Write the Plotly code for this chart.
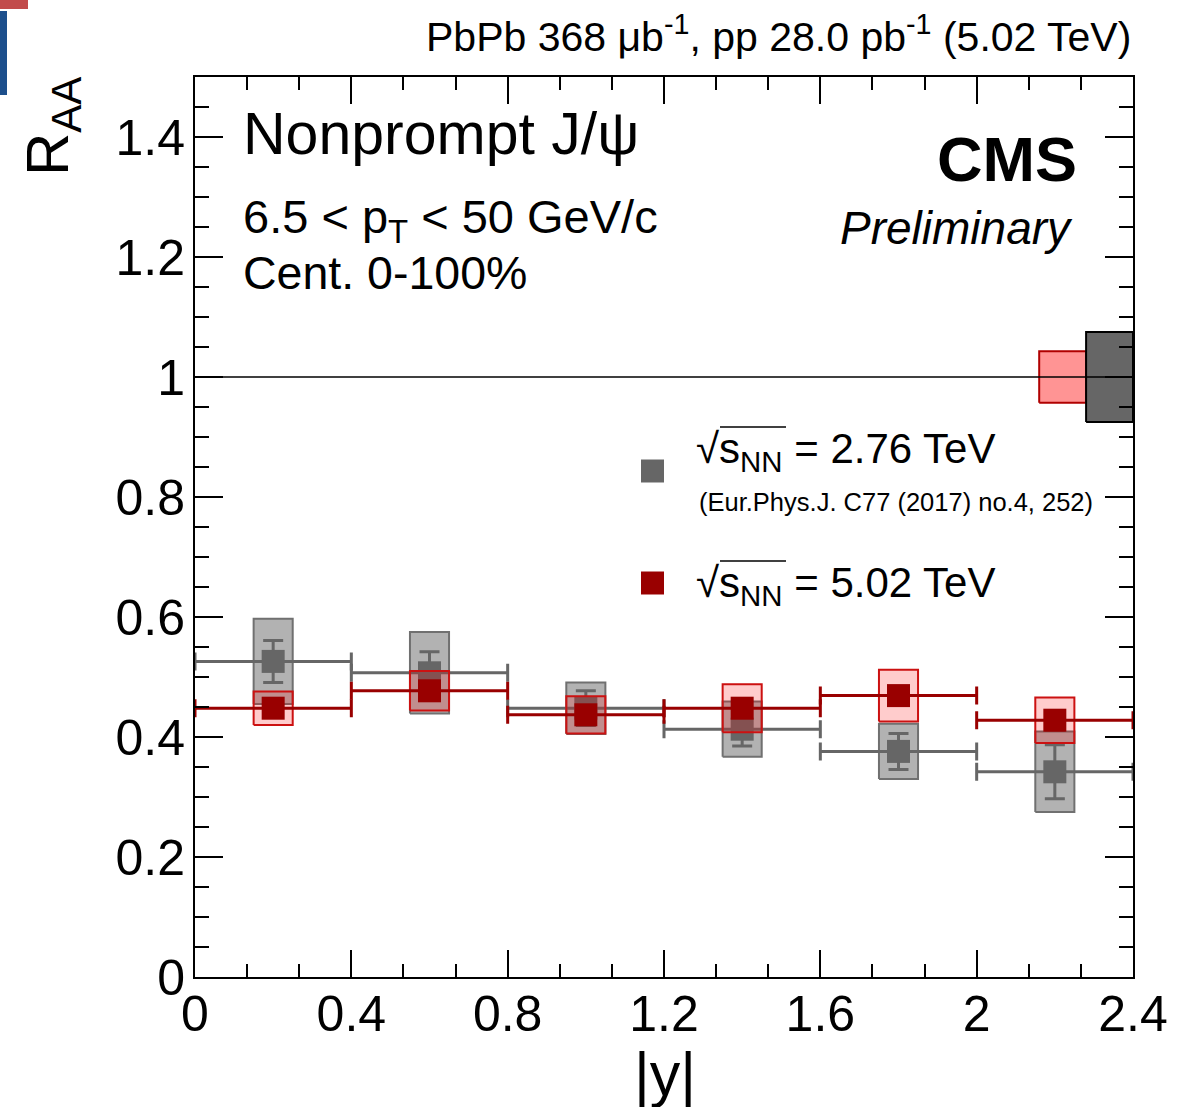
import plotly.graph_objects as go

# ---------------- data ----------------
bin_lo = [0.0, 0.4, 0.8, 1.2, 1.6, 2.0]
bin_hi = [0.4, 0.8, 1.2, 1.6, 2.0, 2.4]

raa_276 = [0.526, 0.507, 0.448, 0.413, 0.376, 0.342]
stat_276 = [0.035, 0.035, 0.029, 0.028, 0.030, 0.045]
syst_276 = [0.071, 0.068, 0.043, 0.046, 0.046, 0.067]

raa_502 = [0.448, 0.477, 0.437, 0.448, 0.469, 0.428]
stat_502 = [0.012, 0.013, 0.012, 0.014, 0.015, 0.016]
syst_502 = [0.028, 0.033, 0.031, 0.040, 0.043, 0.038]

global_unc_502 = 0.043
global_unc_276 = 0.075
reference_raa = 1.0

x_ticks = [0, 0.4, 0.8, 1.2, 1.6, 2.0, 2.4]
y_ticks = [0, 0.2, 0.4, 0.6, 0.8, 1.0, 1.2, 1.4]

# ---------------- layout constants ----------------
W, H = 1201, 1107
L, R, T, B = 195, 1133, 77, 977
XMIN, XMAX, YMIN, YMAX = 0.0, 2.4, 0.0, 1.5
BOX_HALF = 0.05
GLOBAL_W = 0.12
FONT = "Liberation Sans, Arial, Helvetica, sans-serif"

GRAY = "#666666"
DRED = "#990000"

centers = [(a + b) / 2 for a, b in zip(bin_lo, bin_hi)]
halfw = [(b - a) / 2 for a, b in zip(bin_lo, bin_hi)]


def px(x):
    return (x - L) / (R - L)


def py(y):
    return (B - y) / (B - T)


def boxes(xc, hw, vals, errs):
    xs, ys = [], []
    for c, v, e in zip(xc, vals, errs):
        xs += [c - hw, c + hw, c + hw, c - hw, c - hw, None]
        ys += [v - e, v - e, v + e, v + e, v - e, None]
    return xs, ys


fig = go.Figure()

# gray systematic boxes
bx, by = boxes(centers, BOX_HALF, raa_276, syst_276)
fig.add_trace(go.Scatter(x=bx, y=by, mode="lines", fill="toself",
                         fillcolor="rgba(102,102,102,0.5)",
                         line=dict(color="#707070", width=2), hoverinfo="skip"))
# gray points
fig.add_trace(go.Scatter(
    x=centers, y=raa_276, mode="markers",
    marker=dict(symbol="square", size=23, color=GRAY, line=dict(width=0)),
    error_x=dict(type="data", array=halfw, color=GRAY, thickness=3, width=9),
    error_y=dict(type="data", array=stat_276, color=GRAY, thickness=3, width=10),
))
# red systematic boxes
bx, by = boxes(centers, BOX_HALF, raa_502, syst_502)
fig.add_trace(go.Scatter(x=bx, y=by, mode="lines", fill="toself",
                         fillcolor="rgba(255,0,0,0.2)",
                         line=dict(color="#cc1111", width=2), hoverinfo="skip"))
# red points
fig.add_trace(go.Scatter(
    x=centers, y=raa_502, mode="markers",
    marker=dict(symbol="square", size=23, color=DRED, line=dict(width=0)),
    error_x=dict(type="data", array=halfw, color=DRED, thickness=3, width=9),
    error_y=dict(type="data", array=stat_502, color=DRED, thickness=3, width=10),
))

# global uncertainty boxes at R_AA = 1
gx, gy = boxes([XMAX - 1.5 * GLOBAL_W], GLOBAL_W / 2, [reference_raa], [global_unc_502])
fig.add_trace(go.Scatter(x=gx, y=gy, mode="lines", fill="toself",
                         fillcolor="#ff9494", line=dict(color="#b00000", width=2),
                         hoverinfo="skip"))
gx, gy = boxes([XMAX - 0.5 * GLOBAL_W], GLOBAL_W / 2, [reference_raa], [global_unc_276])
fig.add_trace(go.Scatter(x=gx, y=gy, mode="lines", fill="toself",
                         fillcolor=GRAY, line=dict(color="black", width=2),
                         hoverinfo="skip"))
# unity line
fig.add_trace(go.Scatter(x=[XMIN, XMAX], y=[reference_raa, reference_raa], mode="lines",
                         line=dict(color="black", width=1.5), hoverinfo="skip"))

axis_common = dict(
    showgrid=False, zeroline=False, showline=True, linecolor="black", linewidth=2,
    mirror="allticks", ticks="inside", tickwidth=2, tickcolor="black",
    tickfont=dict(family=FONT, size=50, color="black"),
)
fig.update_xaxes(range=[XMIN, XMAX], tickvals=x_ticks,
                 ticktext=[("%g" % v) for v in x_ticks], ticklen=27,
                 ticklabelstandoff=-8,
                 minor=dict(dtick=0.4 / 3, tick0=0, ticklen=13, ticks="inside",
                            tickwidth=2, tickcolor="black"),
                 **axis_common)
fig.update_yaxes(range=[YMIN, YMAX], tickvals=y_ticks,
                 ticktext=[("%g" % v) for v in y_ticks], ticklen=28,
                 ticklabelstandoff=-2,
                 minor=dict(dtick=0.05, tick0=0, ticklen=14, ticks="inside",
                            tickwidth=2, tickcolor="black"),
                 **axis_common)

ann = []


def text(x, y, s, size, xanchor="left", yanchor="middle", **kw):
    ann.append(dict(x=px(x), y=py(y), xref="paper", yref="paper", text=s,
                    showarrow=False, xanchor=xanchor, yanchor=yanchor,
                    font=dict(family=FONT, size=size, color="black"), **kw))


text(1133, 34, "PbPb 368 μb<sup>-1</sup>, pp 28.0 pb<sup>-1</sup> (5.02 TeV)", 41, xanchor="right")
text(241, 134, "Nonprompt J/ψ", 59)
text(241, 220, "6.5 &lt; p<sub>T</sub> &lt; 50 GeV/c", 47)
text(241, 273, "Cent. 0-100%", 46.5)
text(1079, 159, "<b>CMS</b>", 63, xanchor="right")
text(1075, 228, "<i>Preliminary</i>", 46, xanchor="right")
text(694, 451, "√s<sub>NN</sub> = 2.76 TeV", 42)
text(697, 502, "(Eur.Phys.J. C77 (2017) no.4, 252)", 25.5)
text(694, 585, "√s<sub>NN</sub> = 5.02 TeV", 42)
text(665, 1074, "|y|", 61, xanchor="center")
ann.append(dict(x=px(52), y=py(127), xref="paper", yref="paper",
                text="R<sub>AA</sub>", textangle=-90, showarrow=False,
                xanchor="center", yanchor="middle",
                font=dict(family=FONT, size=60, color="black")))

shapes = []
# legend squares
for yc, col in [(471, GRAY), (583, DRED)]:
    shapes.append(dict(type="rect", xref="paper", yref="paper",
                       x0=px(641), x1=px(664), y0=py(yc + 11.5), y1=py(yc - 11.5),
                       fillcolor=col, line=dict(width=0)))
# sqrt overlines
for yl in [427, 561]:
    shapes.append(dict(type="line", xref="paper", yref="paper",
                       x0=px(720), x1=px(786), y0=py(yl), y1=py(yl),
                       line=dict(color="black", width=1.5)))
# slide decorations at top-left corner
shapes.append(dict(type="rect", xref="paper", yref="paper",
                   x0=px(0), x1=px(28), y0=py(9), y1=py(0),
                   fillcolor="#c24b4b", line=dict(width=0)))
shapes.append(dict(type="rect", xref="paper", yref="paper",
                   x0=px(0), x1=px(7), y0=py(95), y1=py(11),
                   fillcolor="#1d4f8c", line=dict(width=0)))

fig.update_layout(
    width=W, height=H,
    margin=dict(l=L, r=W - R, t=T, b=H - B, pad=0),
    paper_bgcolor="white", plot_bgcolor="white",
    showlegend=False, hovermode=False,
    annotations=ann, shapes=shapes,
)

fig.write_html("out.html")
